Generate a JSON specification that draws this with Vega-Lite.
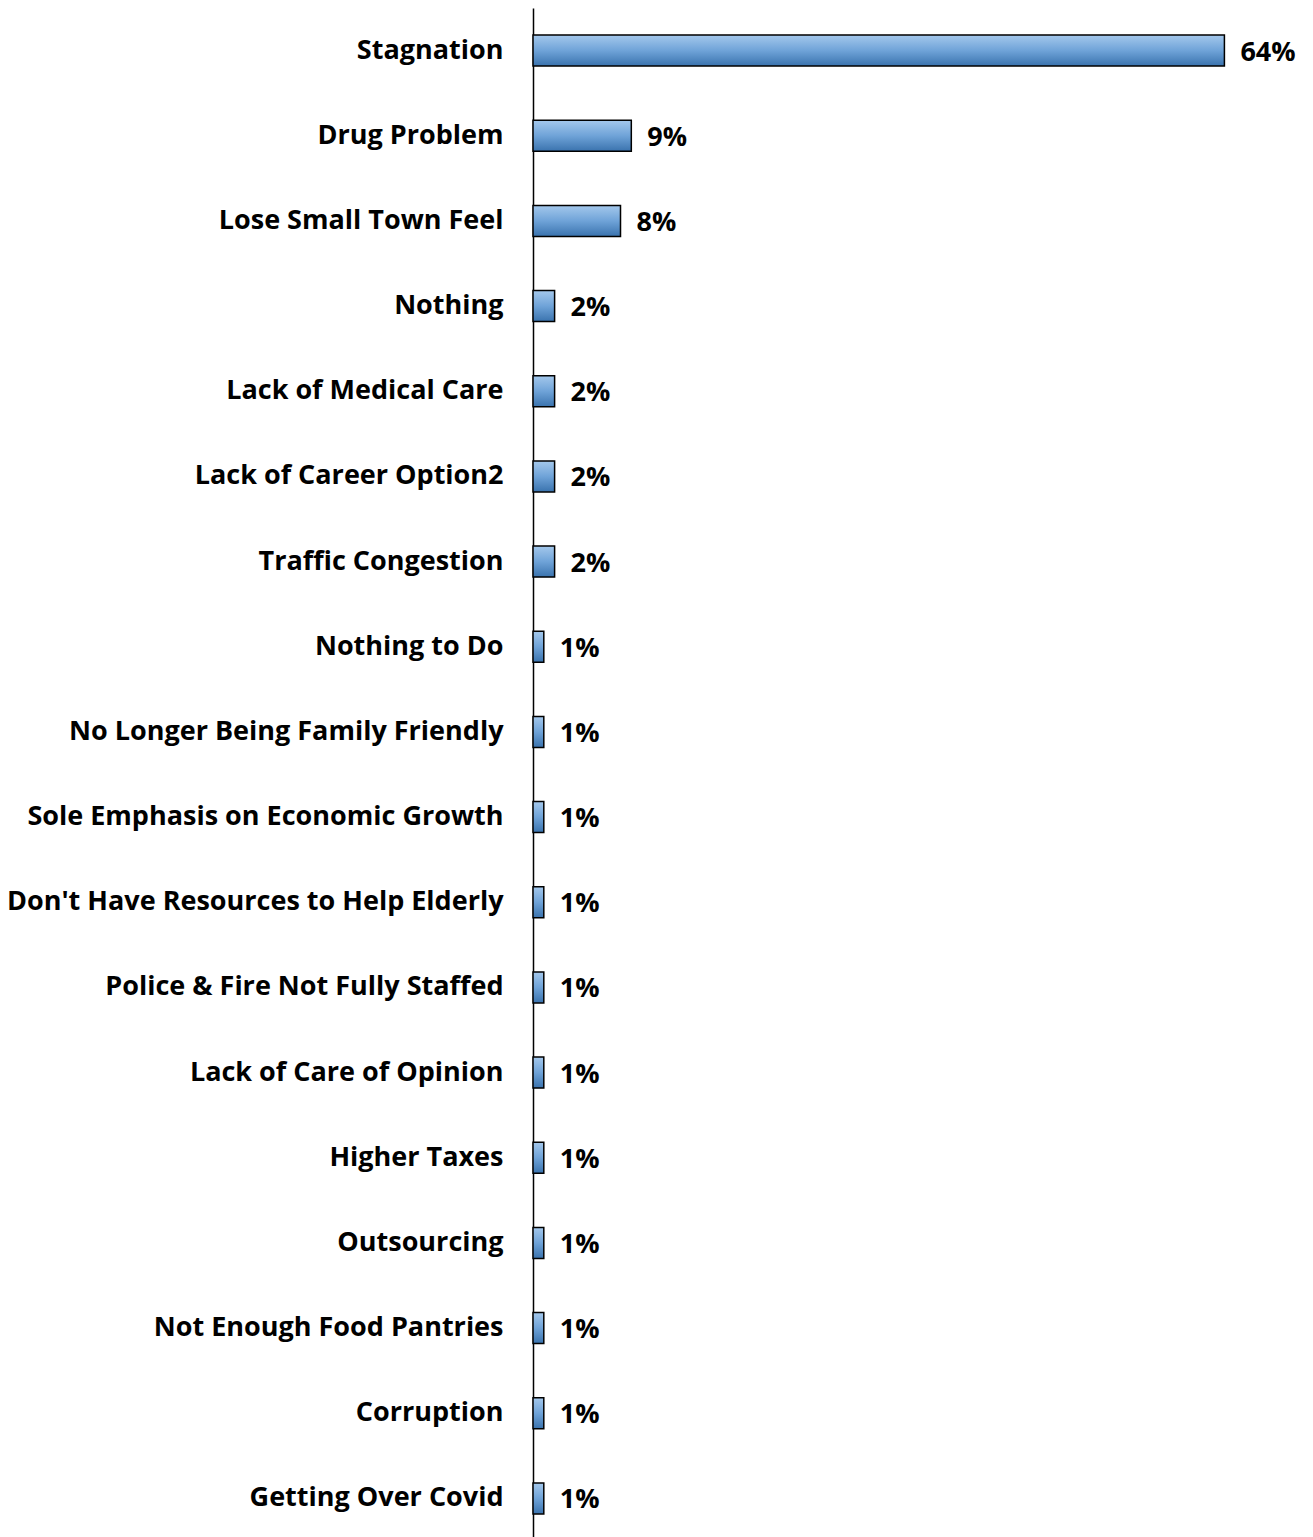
{
  "$schema": "https://vega.github.io/schema/vega-lite/v6.json",
  "autosize": {"type": "none"},
  "padding": {"left": 533, "top": 8, "right": 0, "bottom": 0},
  "width": 780,
  "height": 1533,
  "background": "white",
  "data": {"values": [
    {"issue": "Stagnation", "value": 0.64},
    {"issue": "Drug Problem", "value": 0.091},
    {"issue": "Lose Small Town Feel", "value": 0.081},
    {"issue": "Nothing", "value": 0.02},
    {"issue": "Lack of Medical Care", "value": 0.02},
    {"issue": "Lack of Career Option2", "value": 0.02},
    {"issue": "Traffic Congestion", "value": 0.02},
    {"issue": "Nothing to Do", "value": 0.01},
    {"issue": "No Longer Being Family Friendly", "value": 0.01},
    {"issue": "Sole Emphasis on Economic Growth", "value": 0.01},
    {"issue": "Don't Have Resources to Help Elderly", "value": 0.01},
    {"issue": "Police & Fire Not Fully Staffed", "value": 0.01},
    {"issue": "Lack of Care of Opinion", "value": 0.01},
    {"issue": "Higher Taxes", "value": 0.01},
    {"issue": "Outsourcing", "value": 0.01},
    {"issue": "Not Enough Food Pantries", "value": 0.01},
    {"issue": "Corruption", "value": 0.01},
    {"issue": "Getting Over Covid", "value": 0.01}
  ]},
  "config": {"view": {"stroke": null}},
  "encoding": {
    "y": {
      "field": "issue", "type": "nominal", "sort": null,
      "scale": {"paddingInner": 0.636, "paddingOuter": 0.318},
      "axis": {
        "title": null, "ticks": false, "labelPadding": 30,
        "labelFont": "Open Sans", "labelFontWeight": "bold", "labelFontSize": 27,
        "labelColor": "black", "labelLimit": 600,
        "domainColor": "black", "domainWidth": 1.5
      }
    },
    "x": {
      "field": "value", "type": "quantitative",
      "scale": {"domain": [0, 0.722], "nice": false},
      "axis": null
    }
  },
  "layer": [
    {
      "mark": {
        "type": "bar",
        "stroke": "black", "strokeWidth": 1.5,
        "color": {
          "gradient": "linear", "x1": 0, "y1": 0, "x2": 0, "y2": 1,
          "stops": [
            {"offset": 0, "color": "#A4C8EC"},
            {"offset": 0.5, "color": "#6FA3D8"},
            {"offset": 1, "color": "#3A73AE"}
          ]
        }
      }
    },
    {
      "mark": {
        "type": "text", "align": "left", "baseline": "middle", "dx": 16, "dy": 2,
        "font": "Open Sans", "fontWeight": "bold", "fontSize": 27, "color": "black"
      },
      "encoding": {"text": {"field": "value", "type": "quantitative", "format": ".0%"}}
    }
  ]
}
